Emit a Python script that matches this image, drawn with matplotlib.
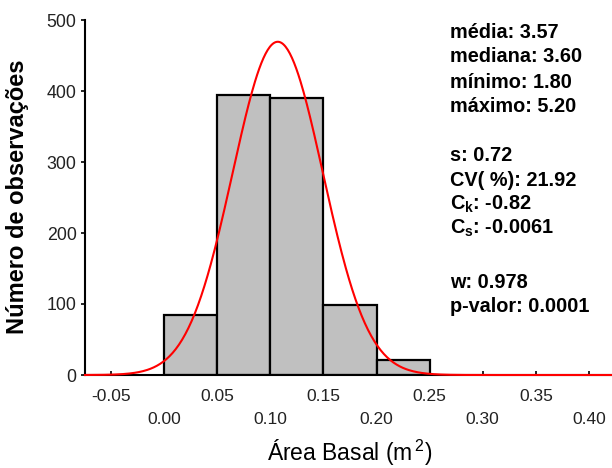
import numpy as np
import matplotlib
matplotlib.use('Agg')
import matplotlib.pyplot as plt

plt.rcParams['font.family'] = 'Liberation Sans'
plt.rcParams['mathtext.fontset'] = 'custom'
plt.rcParams['mathtext.rm'] = 'Liberation Sans'
plt.rcParams['mathtext.bf'] = 'Liberation Sans:bold'
plt.rcParams['mathtext.default'] = 'regular'

# histogram data (bin edges and counts)
bin_edges = [0.00, 0.05, 0.10, 0.15, 0.20, 0.25]
counts = [84, 394, 390, 98, 21]

# fitted normal curve parameters
fit_mean = 0.107
fit_sd = 0.0425
fit_n = 1000

stats_lines = ["média: 3.57", "mediana: 3.60", "mínimo: 1.80", "máximo: 5.20",
               "s: 0.72", "CV( %): 21.92", r"C$_\mathbf{k}$: -0.82", r"C$_\mathbf{s}$: -0.0061",
               "w: 0.978", "p-valor: 0.0001"]
stats_ypix = [33, 57, 82, 106, 156, 180, 204, 228, 282, 306]

major_ticks = [0.00, 0.10, 0.20, 0.30, 0.40]
minor_ticks = [-0.05, 0.05, 0.15, 0.25, 0.35]
y_ticks = [0, 100, 200, 300, 400, 500]

W, H = 612, 468
fig = plt.figure(figsize=(W / 100, H / 100), dpi=100)
ax = fig.add_axes([85 / W, 93 / H, (W - 85) / W, 355 / H])

xmin, xmax = -0.0745, 0.4217
widths = np.diff(bin_edges)
ax.bar(bin_edges[:-1], counts, width=widths, align='edge', color='#c0c0c0',
       edgecolor='black', linewidth=1.6, zorder=2)

bw = bin_edges[1] - bin_edges[0]
xs = np.linspace(xmin, xmax, 500)
ys = fit_n * bw / (fit_sd * np.sqrt(2 * np.pi)) * np.exp(-0.5 * ((xs - fit_mean) / fit_sd) ** 2)
ax.plot(xs, ys, color='red', linewidth=1.5, zorder=3, clip_on=False)

ax.set_xlim(xmin, xmax)
ax.set_ylim(0, 500)
ax.spines['top'].set_visible(False)
ax.spines['right'].set_visible(False)
ax.spines['left'].set_linewidth(1.5)
ax.spines['bottom'].set_linewidth(1.5)

ax.set_xticks(major_ticks)
ax.set_xticklabels(["%.2f" % t for t in major_ticks])
ax.set_xticks(minor_ticks, minor=True)
ax.set_xticklabels(["%.2f" % t for t in minor_ticks], minor=True)
ax.tick_params(axis='x', which='major', direction='in', length=3, width=1.2,
               pad=26.5, labelsize=12.5, labelcolor='#222222')
ax.tick_params(axis='x', which='minor', direction='in', length=3, width=1.2,
               pad=10, labelsize=12.5, labelcolor='#222222')
ax.set_yticks(y_ticks)
ax.tick_params(axis='y', direction='out', length=3, width=1.2, pad=3,
               labelsize=12.8, labelcolor='#222222')

fig.text(18 / W, 1 - 197 / H, "Número de observações", fontsize=17,
         fontweight='bold', rotation=90, ha='center', va='center')
fig.text(350 / W, 1 - 461 / H, r"Área Basal (m$^{\,2}$)", fontsize=16.5,
         ha='center', va='baseline')

for line, yp in zip(stats_lines, stats_ypix):
    fig.text(450 / W, 1 - yp / H, line, fontsize=14.3, fontweight='bold',
             ha='left', va='center')

fig.savefig('out.png', dpi=100)
